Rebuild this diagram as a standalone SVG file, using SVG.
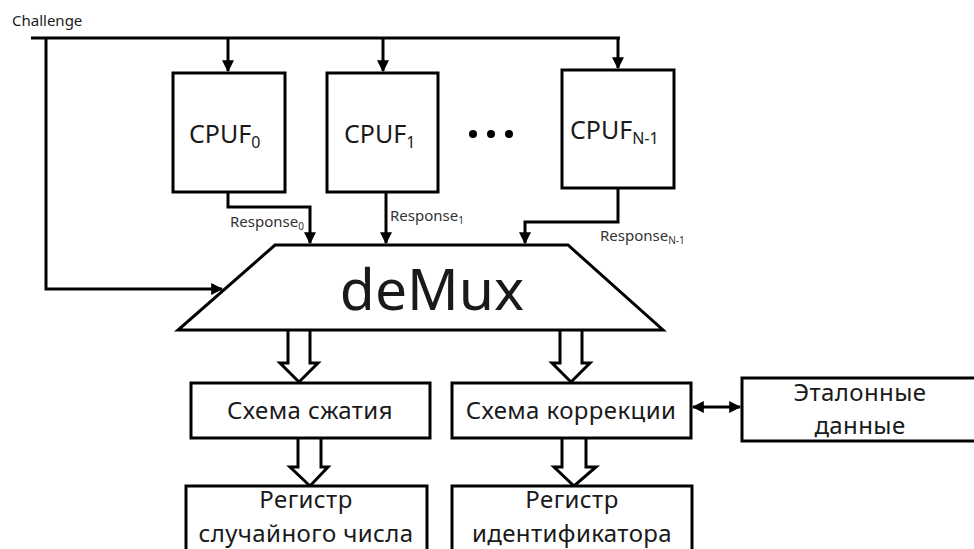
<svg xmlns="http://www.w3.org/2000/svg" width="974" height="549" viewBox="0 0 974 549">
<defs>
<marker id="ah2" viewBox="0 0 10 10" refX="9" refY="5" markerWidth="12" markerHeight="12" orient="auto-start-reverse" markerUnits="userSpaceOnUse">
<path d="M0,0 L10,5 L0,10 Z" fill="#000"/>
</marker>
<style>
.b{fill:#fff;stroke:#000;stroke-width:3}
.l{fill:none;stroke:#000;stroke-width:3}
.t{font-family:"Noto Sans","Open Sans","DejaVu Sans",sans-serif;fill:#1a1a1a}
.m{font-size:24px;letter-spacing:0.4px}
.s{font-size:15px;fill:#333}
.hol{fill:#fff;stroke:#000;stroke-width:3;stroke-linejoin:miter}
</style>
</defs>
<rect width="974" height="549" fill="#fff"/>
<text class="t" x="12" y="26" font-size="15" fill="#333">Challenge</text>
<g id="connectors">
<path class="l" d="M31,38 H620"/>
<path class="l" d="M228,38 V71" marker-end="url(#ah2)"/>
<path class="l" d="M383,38 V71" marker-end="url(#ah2)"/>
<path class="l" d="M618,38 V68" marker-end="url(#ah2)"/>
<path class="l" d="M46,38 V289 H222" marker-end="url(#ah2)"/>
<path class="l" d="M228,192 V207 H310 V243" marker-end="url(#ah2)"/>
<path class="l" d="M386,192 V243" marker-end="url(#ah2)"/>
<path class="l" d="M618,188 V222 H525 V243" marker-end="url(#ah2)"/>
<path class="l" d="M693,407 H740" marker-start="url(#ah2)" marker-end="url(#ah2)"/>
<path class="hol" d="M288,331 V363 H280 L299,382 L318,363 H310 V331"/>
<path class="hol" d="M560,331 V363 H552 L571,382 L590,363 H582 V331"/>
<path class="hol" d="M298,439 V467 H290 L310,486 L328,467 H321 V439"/>
<path class="hol" d="M562,439 V467 H554 L574,486 L596,467 H586 V439"/>
</g>
<g id="cpuf0">
<rect class="b" x="173" y="73" width="112" height="119"/>
<text class="t" x="189" y="143" font-size="25">CPUF<tspan font-size="16" dy="5">0</tspan></text>
</g>
<g id="cpuf1">
<rect class="b" x="327" y="73" width="111" height="119"/>
<text class="t" x="344" y="143" font-size="25">CPUF<tspan font-size="16" dy="5">1</tspan></text>
</g>
<g id="dots">
<circle cx="473" cy="134" r="4"/>
<circle cx="491" cy="134" r="4"/>
<circle cx="509" cy="134" r="4"/>
</g>
<g id="cpufn">
<rect class="b" x="562" y="70" width="112" height="118"/>
<text class="t" x="570" y="139" font-size="25">CPUF<tspan font-size="16" dy="5">N-1</tspan></text>
</g>
<g id="labels">
<text class="t s" x="230" y="227">Response<tspan font-size="10" dy="3">0</tspan></text>
<text class="t s" x="390" y="221">Response<tspan font-size="10" dy="3">1</tspan></text>
<text class="t s" x="600" y="241">Response<tspan font-size="10" dy="3">N-1</tspan></text>
</g>
<g id="demux">
<path class="b" d="M275,245 H568 L663,330 H178 Z"/>
<text class="t" x="432" y="310" font-size="57" text-anchor="middle">deMux</text>
</g>
<g id="compress">
<rect class="b" x="191" y="383" width="239" height="55"/>
<text class="t m" x="310" y="419" text-anchor="middle">Схема сжатия</text>
</g>
<g id="correct">
<rect class="b" x="452" y="383" width="239" height="55"/>
<text class="t m" x="571" y="419" text-anchor="middle">Схема коррекции</text>
</g>
<g id="ref">
<rect class="b" x="742" y="378" width="240" height="63"/>
<text class="t m" x="860" y="401" text-anchor="middle">Эталонные</text>
<text class="t m" x="860" y="434" text-anchor="middle">данные</text>
</g>
<g id="rng">
<rect class="b" x="186" y="486" width="241" height="80"/>
<text class="t m" x="306" y="508" text-anchor="middle">Регистр</text>
<text class="t m" x="306" y="542" text-anchor="middle">случайного числа</text>
</g>
<g id="idreg">
<rect class="b" x="452" y="486" width="240" height="80"/>
<text class="t m" x="572" y="508" text-anchor="middle">Регистр</text>
<text class="t m" x="572" y="542" text-anchor="middle">идентификатора</text>
</g>
</svg>
